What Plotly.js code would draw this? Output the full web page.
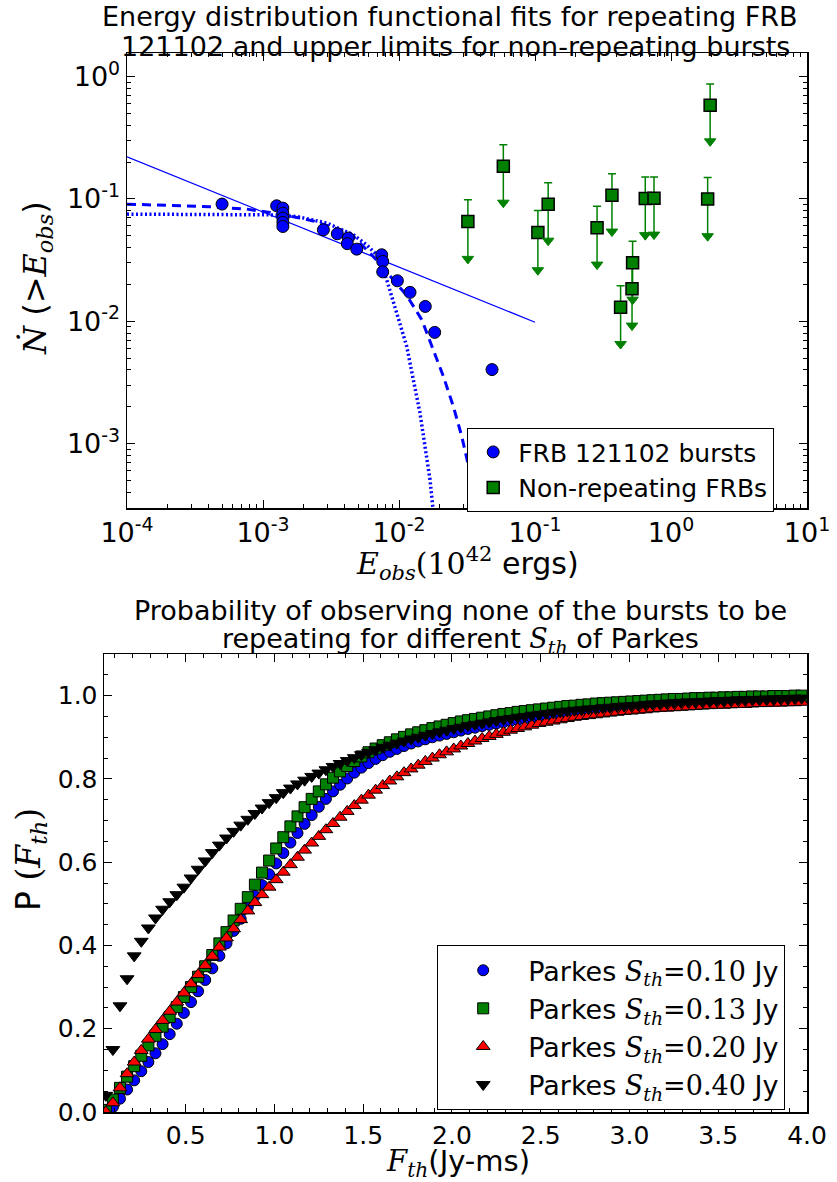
<!DOCTYPE html>
<html>
<head>
<meta charset="utf-8">
<script src="https://cdn.plot.ly/plotly-3.0.1.min.js"></script>
<style>
  html, body { margin: 0; padding: 0; background: #ffffff; }
  #chart { width: 837px; height: 1182px; }
</style>
</head>
<body>
<div id="chart"></div>
<script>
// ---------- Upper panel: cumulative burst rate vs observed energy ----------
// FRB 121102 bursts
const E_BURSTS = [5e-4, 1.26e-3, 1.4e-3, 1.4e-3, 1.4e-3, 1.4e-3, 1.4e-3, 2.78e-3, 3.52e-3, 4.24e-3,
                  4.17e-3, 4.89e-3, 7.46e-3, 7.59e-3, 7.59e-3, 9.73e-3, 0.01205, 0.0156, 0.0183, 0.0483];
const N_BURSTS = [0.0906, 0.0877, 0.084, 0.0764, 0.0695, 0.0641, 0.0594, 0.0558, 0.0518, 0.0478,
                  0.043, 0.0388, 0.0349, 0.0308, 0.0253, 0.0214, 0.0172, 0.0132, 0.0081, 0.00402];

// Non-repeating FRBs: upper limits with their error sizes
const E_NONREP = [0.0321, 0.0585, 0.105, 0.125, 0.286, 0.368, 0.426, 0.522, 0.517, 0.647, 0.75, 1.86, 1.94];
const N_NONREP = [0.0653, 0.185, 0.0531, 0.0905, 0.058, 0.107, 0.013, 0.030, 0.0184, 0.1005, 0.101, 0.0995, 0.582];
const N_NONREP_ERR = [0.033, 0.092, 0.027, 0.045, 0.029, 0.053, 0.0065, 0.015, 0.0092, 0.050, 0.050, 0.050, 0.287];

// Functional fits
const FIT_POWER_E = [1e-4, 0.1];
const FIT_POWER_N = [0.2203, 0.0098];

const FIT_DASH_E = [1e-4, 2e-4, 4e-4, 7.6e-4, 1.12e-3, 1.77e-3, 2.34e-3, 3.11e-3, 4.37e-3, 6.47e-3,
                    8.59e-3, 0.0114, 0.0147, 0.0179, 0.0212, 0.0251, 0.0289, 0.0333, 0.0362, 0.038];
const FIT_DASH_N = [0.0905, 0.0882, 0.0862, 0.0824, 0.0775, 0.0705, 0.066, 0.0594, 0.0525, 0.0338,
                    0.0232, 0.0162, 0.0103, 0.00585, 0.00354, 0.00201, 0.00115, 5.77e-4, 3.49e-4, 2.6e-4];

const FIT_DOT_E = [1e-4, 3e-4, 7e-4, 1.1e-3, 1.77e-3, 2.94e-3, 4.61e-3, 5.78e-3, 6.85e-3, 7.24e-3,
                   8.12e-3, 9.61e-3, 0.0114, 0.01274, 0.01426, 0.01552, 0.0169, 0.0177, 0.0181];
const FIT_DOT_N = [0.075, 0.075, 0.0745, 0.074, 0.0717, 0.0634, 0.0508, 0.0421, 0.0349, 0.0318,
                   0.0218, 0.01167, 0.00622, 0.00333, 0.00178, 9.5e-4, 5.08e-4, 3.08e-4, 2.5e-4];

const TOP_X_TICKVALS = [1e-4, 1e-3, 1e-2, 1e-1, 1, 10];
const TOP_X_TICKTEXT = ['10<sup>-4</sup>', '10<sup>-3</sup>', '10<sup>-2</sup>', '10<sup>-1</sup>', '10<sup>0</sup>', '10<sup>1</sup>'];
const TOP_Y_TICKVALS = [1e-3, 1e-2, 1e-1, 1];
const TOP_Y_TICKTEXT = ['10<sup>-3</sup>', '10<sup>-2</sup>', '10<sup>-1</sup>', '10<sup>0</sup>'];

// ---------- Lower panel: probability vs fluence threshold ----------
const F_TH = [
  0.05, 0.09, 0.13, 0.17, 0.21, 0.25, 0.29, 0.33, 0.37, 0.41,
  0.45, 0.49, 0.53, 0.57, 0.61, 0.65, 0.69, 0.73, 0.77, 0.81,
  0.85, 0.89, 0.93, 0.97, 1.01, 1.05, 1.09, 1.13, 1.17, 1.21,
  1.25, 1.29, 1.33, 1.37, 1.41, 1.45, 1.49, 1.53, 1.57, 1.61,
  1.65, 1.69, 1.73, 1.77, 1.81, 1.85, 1.89, 1.93, 1.97, 2.01,
  2.05, 2.09, 2.13, 2.17, 2.21, 2.25, 2.29, 2.33, 2.37, 2.41,
  2.45, 2.49, 2.53, 2.57, 2.61, 2.65, 2.69, 2.73, 2.77, 2.81,
  2.85, 2.89, 2.93, 2.97, 3.01, 3.05, 3.09, 3.13, 3.17, 3.21,
  3.25, 3.29, 3.33, 3.37, 3.41, 3.45, 3.49, 3.53, 3.57, 3.61,
  3.65, 3.69, 3.73, 3.77, 3.81, 3.85, 3.89, 3.93, 3.97];

const P_S010 = [
  0.000, 0.012, 0.032, 0.054, 0.076, 0.098, 0.120, 0.141, 0.163, 0.187,
  0.212, 0.238, 0.264, 0.290, 0.317, 0.345, 0.375, 0.405, 0.435, 0.464,
  0.492, 0.519, 0.545, 0.571, 0.597, 0.622, 0.647, 0.670, 0.692, 0.713,
  0.733, 0.752, 0.770, 0.786, 0.801, 0.815, 0.827, 0.838, 0.848, 0.857,
  0.865, 0.872, 0.879, 0.885, 0.890, 0.895, 0.900, 0.904, 0.908, 0.912,
  0.916, 0.920, 0.923, 0.927, 0.930, 0.933, 0.936, 0.939, 0.942, 0.945,
  0.948, 0.951, 0.953, 0.955, 0.958, 0.960, 0.962, 0.963, 0.965, 0.967,
  0.968, 0.970, 0.971, 0.973, 0.974, 0.975, 0.976, 0.977, 0.978, 0.979,
  0.980, 0.981, 0.982, 0.983, 0.984, 0.984, 0.985, 0.986, 0.986, 0.987,
  0.988, 0.988, 0.989, 0.989, 0.990, 0.990, 0.991, 0.991, 0.992];

const P_S013 = [
  0.005, 0.030, 0.058, 0.085, 0.110, 0.135, 0.160, 0.183, 0.205, 0.228,
  0.252, 0.276, 0.300, 0.325, 0.350, 0.377, 0.405, 0.432, 0.460, 0.488,
  0.516, 0.546, 0.575, 0.604, 0.633, 0.660, 0.686, 0.710, 0.732, 0.752,
  0.770, 0.787, 0.803, 0.818, 0.831, 0.843, 0.854, 0.864, 0.873, 0.881,
  0.888, 0.895, 0.901, 0.907, 0.912, 0.917, 0.922, 0.926, 0.930, 0.934,
  0.938, 0.941, 0.944, 0.947, 0.950, 0.953, 0.956, 0.958, 0.961, 0.963,
  0.965, 0.967, 0.969, 0.971, 0.973, 0.975, 0.976, 0.978, 0.979, 0.981,
  0.982, 0.983, 0.984, 0.985, 0.986, 0.987, 0.988, 0.989, 0.990, 0.991,
  0.992, 0.992, 0.993, 0.994, 0.994, 0.995, 0.995, 0.996, 0.996, 0.997,
  0.997, 0.998, 0.998, 0.998, 0.999, 0.999, 0.999, 1.000, 1.000];

const P_S020 = [
  0.000, 0.022, 0.058, 0.092, 0.120, 0.148, 0.175, 0.198, 0.220, 0.242,
  0.264, 0.286, 0.308, 0.330, 0.352, 0.374, 0.396, 0.418, 0.440, 0.462,
  0.483, 0.503, 0.522, 0.540, 0.558, 0.576, 0.594, 0.612, 0.629, 0.646,
  0.662, 0.678, 0.693, 0.708, 0.722, 0.736, 0.749, 0.761, 0.773, 0.784,
  0.795, 0.805, 0.815, 0.824, 0.833, 0.842, 0.850, 0.858, 0.865, 0.872,
  0.879, 0.885, 0.891, 0.897, 0.902, 0.907, 0.912, 0.917, 0.921, 0.925,
  0.929, 0.933, 0.936, 0.939, 0.942, 0.945, 0.948, 0.950, 0.952, 0.954,
  0.956, 0.958, 0.960, 0.962, 0.963, 0.965, 0.966, 0.968, 0.969, 0.970,
  0.971, 0.972, 0.973, 0.974, 0.975, 0.976, 0.977, 0.977, 0.978, 0.979,
  0.979, 0.980, 0.981, 0.981, 0.982, 0.982, 0.983, 0.983, 0.984];

const P_S040 = [
  0.040, 0.150, 0.255, 0.320, 0.375, 0.410, 0.442, 0.466, 0.487, 0.505,
  0.522, 0.540, 0.562, 0.583, 0.603, 0.623, 0.641, 0.658, 0.674, 0.689,
  0.703, 0.717, 0.730, 0.743, 0.755, 0.767, 0.778, 0.788, 0.797, 0.806,
  0.814, 0.822, 0.830, 0.837, 0.844, 0.851, 0.858, 0.864, 0.870, 0.876,
  0.881, 0.886, 0.891, 0.896, 0.900, 0.905, 0.909, 0.913, 0.917, 0.921,
  0.924, 0.928, 0.931, 0.934, 0.937, 0.940, 0.943, 0.945, 0.948, 0.950,
  0.953, 0.955, 0.957, 0.959, 0.961, 0.963, 0.965, 0.966, 0.968, 0.969,
  0.971, 0.972, 0.974, 0.975, 0.976, 0.977, 0.979, 0.980, 0.981, 0.982,
  0.983, 0.984, 0.985, 0.985, 0.986, 0.987, 0.988, 0.988, 0.989, 0.990,
  0.990, 0.991, 0.991, 0.992, 0.992, 0.993, 0.993, 0.994, 0.994];

// ---------- styling helpers ----------
const SANS = 'DejaVu Sans, Arial, sans-serif';
const SERIF = 'DejaVu Serif';
const math = s => '<span style="font-family:' + SERIF + '">' + s + '</span>';
const S_TH = math('<i>S</i><sub><i>th</i></sub>');

const W = 837, H = 1182;
const px = v => v / W;          // horizontal pixel -> paper
const py = v => 1 - v / H;      // vertical pixel -> paper

// minor tick positions for the log axes (2..9 in every decade)
function logMinors(lo, hi) {
  const out = [];
  for (let d = lo; d < hi; d++) {
    for (let k = 2; k <= 9; k++) out.push(k * Math.pow(10, d));
  }
  return out;
}

const baseAxis = {
  showline: true, linecolor: 'black', linewidth: 1.5, mirror: 'allticks',
  ticks: 'inside', ticklen: 8, tickwidth: 1, tickcolor: 'black',
  showgrid: false, zeroline: false
};

// ---------- traces ----------
const traces = [
  { x: FIT_POWER_E, y: FIT_POWER_N, mode: 'lines', xaxis: 'x', yaxis: 'y',
    line: { color: '#0000ff', width: 1.3 }, showlegend: false, hoverinfo: 'skip' },
  { x: FIT_DASH_E, y: FIT_DASH_N, mode: 'lines', xaxis: 'x', yaxis: 'y',
    line: { color: '#0000ff', width: 3, dash: '9px,6px' }, showlegend: false, hoverinfo: 'skip' },
  { x: FIT_DOT_E, y: FIT_DOT_N, mode: 'lines', xaxis: 'x', yaxis: 'y',
    line: { color: '#0000ff', width: 3.5, dash: '2px,2.5px' }, showlegend: false, hoverinfo: 'skip' },
  { x: E_BURSTS, y: N_BURSTS, mode: 'markers', xaxis: 'x', yaxis: 'y', name: 'FRB 121102 bursts',
    marker: { symbol: 'circle', size: 12, color: '#0000ff', line: { color: 'black', width: 1 } },
    legend: 'legend' },
  { x: E_NONREP, y: N_NONREP, mode: 'markers', xaxis: 'x', yaxis: 'y', name: 'Non-repeating FRBs',
    marker: { symbol: 'square', size: 12, color: '#008000', line: { color: 'black', width: 1.5 } },
    error_y: { type: 'data', symmetric: false, array: N_NONREP_ERR, arrayminus: N_NONREP_ERR,
               color: '#008000', thickness: 1.5, width: 4 },
    legend: 'legend' },
  { x: E_NONREP, y: N_NONREP.map((v, i) => v - N_NONREP_ERR[i]), mode: 'markers', xaxis: 'x', yaxis: 'y',
    marker: { symbol: 'triangle-down', size: 10, color: '#008000', line: { color: '#008000', width: 1 } },
    showlegend: false, hoverinfo: 'skip' },

  { x: F_TH, y: P_S010, mode: 'markers', xaxis: 'x2', yaxis: 'y2', legend: 'legend2',
    name: 'Parkes ' + S_TH + math('=0.10') + ' Jy',
    marker: { symbol: 'circle', size: 11, color: '#0000ff', line: { color: 'black', width: 1 } } },
  { x: F_TH, y: P_S013, mode: 'markers', xaxis: 'x2', yaxis: 'y2', legend: 'legend2',
    name: 'Parkes ' + S_TH + math('=0.13') + ' Jy',
    marker: { symbol: 'square', size: 11, color: '#008000', line: { color: 'black', width: 1 } } },
  { x: F_TH, y: P_S020, mode: 'markers', xaxis: 'x2', yaxis: 'y2', legend: 'legend2',
    name: 'Parkes ' + S_TH + math('=0.20') + ' Jy',
    marker: { symbol: 'triangle-up', size: 12, color: '#ff0000', line: { color: 'black', width: 1 } } },
  { x: F_TH, y: P_S040, mode: 'markers', xaxis: 'x2', yaxis: 'y2', legend: 'legend2',
    name: 'Parkes ' + S_TH + math('=0.40') + ' Jy',
    marker: { symbol: 'triangle-down', size: 12, color: '#000000', line: { color: 'black', width: 1 } } }
];

// ---------- layout ----------
const layout = {
  width: W, height: H,
  margin: { l: 0, r: 0, t: 0, b: 0 },
  paper_bgcolor: '#ffffff', plot_bgcolor: '#ffffff',
  font: { family: SANS, color: '#000000' },
  xaxis: Object.assign({}, baseAxis, {
    type: 'log', range: [-4, 1], domain: [px(127), px(807)], anchor: 'y',
    tickmode: 'array', tickvals: TOP_X_TICKVALS, ticktext: TOP_X_TICKTEXT,
    tickfont: { size: 27 },
    minor: { tickmode: 'array', tickvals: logMinors(-4, 1), ticks: 'inside', ticklen: 4,
             tickwidth: 1, tickcolor: 'black', showgrid: false }
  }),
  yaxis: Object.assign({}, baseAxis, {
    type: 'log', range: [-3.527, 0.192], domain: [py(508), py(53)], anchor: 'x',
    tickmode: 'array', tickvals: TOP_Y_TICKVALS, ticktext: TOP_Y_TICKTEXT,
    tickfont: { size: 27 },
    minor: { tickmode: 'array', tickvals: logMinors(-4, 1), ticks: 'inside', ticklen: 4,
             tickwidth: 1, tickcolor: 'black', showgrid: false }
  }),
  xaxis2: Object.assign({}, baseAxis, {
    range: [0.04, 4.0], domain: [px(104), px(807)], anchor: 'y2',
    tick0: 0, dtick: 0.5, tickformat: '.1f', tickfont: { size: 25 },
    minor: { dtick: 0.1, ticks: 'inside', ticklen: 4, tickwidth: 1, tickcolor: 'black', showgrid: false }
  }),
  yaxis2: Object.assign({}, baseAxis, {
    range: [0, 1.1], domain: [py(1112), py(654)], anchor: 'x2',
    tick0: 0, dtick: 0.2, tickformat: '.1f', tickfont: { size: 25 },
    minor: { dtick: 0.05, ticks: 'inside', ticklen: 4, tickwidth: 1, tickcolor: 'black', showgrid: false }
  }),
  legend: {
    x: px(467), y: py(428), xanchor: 'left', yanchor: 'top',
    bgcolor: '#ffffff', bordercolor: '#000000', borderwidth: 1.2,
    font: { size: 25 }, itemwidth: 40, tracegroupgap: 0
  },
  legend2: {
    x: px(437), y: py(945), xanchor: 'left', yanchor: 'top',
    bgcolor: '#ffffff', bordercolor: '#000000', borderwidth: 1.2,
    font: { size: 27 }, itemwidth: 80, tracegroupgap: 0
  },
  annotations: [
    { text: 'Energy distribution functional fits for repeating FRB', x: px(450), y: py(17) },
    { text: '121102 and upper limits for non-repeating bursts', x: px(455), y: py(46) },
    { text: 'Probability of observing none of the bursts to be', x: px(460), y: py(610) },
    { text: 'repeating for different ' + S_TH + ' of Parkes', x: px(460), y: py(640) },
    { text: math('<i>E</i><sub><i>obs</i></sub>(10<sup>42</sup>') + ' ergs)', x: px(468), y: py(563), font: { size: 30 } },
    { text: math('<i>Ṅ</i>') + ' (&gt;' + math('<i>E</i><sub><i>obs</i></sub>') + ')', x: px(37), y: py(278),
      textangle: -90, font: { size: 32 } },
    { text: math('<i>F</i><sub><i>th</i></sub>') + '(Jy-ms)', x: px(458), y: py(1163), font: { size: 29 } },
    { text: 'P ' + math('(<i>F</i><sub><i>th</i></sub>)'), x: px(30), y: py(860), textangle: -90, font: { size: 33 } }
  ].map(a => Object.assign({
    xref: 'paper', yref: 'paper', showarrow: false, xanchor: 'center', yanchor: 'middle',
    font: { size: 27 }
  }, a))
};

Plotly.newPlot('chart', traces, layout, { staticPlot: true, displayModeBar: false });
</script>
</body>
</html>
